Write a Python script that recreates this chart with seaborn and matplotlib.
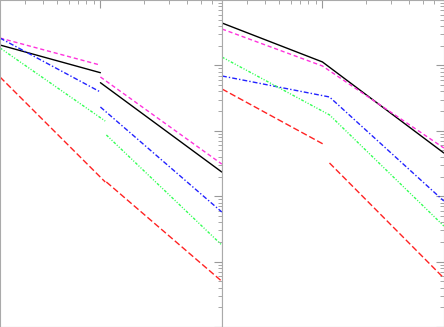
import numpy as np
import pandas as pd
import matplotlib
matplotlib.use('Agg')
import matplotlib.pyplot as plt
import seaborn as sns

# curve data: each curve is a list of segments (x values, y values)
curves = ['black', 'magenta', 'blue', 'green', 'red']

left_x = {
    'black':   [[0.2, 1.0], [1.0, 7.0]],
    'magenta': [[0.2, 1.0], [1.0, 7.0]],
    'blue':    [[0.2, 1.0], [1.0, 7.0]],
    'green':   [[0.2, 1.08], [1.1, 7.0]],
    'red':     [[0.2, 1.08], [1.1, 7.0]],
}
left_y = {
    'black':   [[0.205, 0.0773], [0.0544, 0.00234]],
    'magenta': [[0.262, 0.101], [0.0665, 0.0031]],
    'blue':    [[0.262, 0.0392], [0.0231, 0.000573]],
    'green':   [[0.185, 0.0141], [0.00863, 0.000179]],
    'red':     [[0.0665, 0.00165], [0.00165, 0.00005]],
}

right_x = {
    'black':   [[0.2, 1.0, 7.0]],
    'magenta': [[0.2, 1.0, 7.0]],
    'blue':    [[0.2, 1.12, 7.0]],
    'green':   [[0.2, 1.12, 7.0]],
    'red':     [[0.2, 1.04], [1.12, 7.0]],
}
right_y = {
    'black':   [[0.445, 0.113, 0.00458]],
    'magenta': [[0.36, 0.098, 0.00546]],
    'blue':    [[0.0689, 0.0329, 0.000845]],
    'green':   [[0.134, 0.0175, 0.00035]],
    'red':     [[0.0436, 0.00607], [0.00322, 0.000056]],
}

styles = {
    'black':   dict(color='black', linestyle='-'),
    'magenta': dict(color='#ff33dd', linestyle=(0, (3.0, 2.0))),
    'blue':    dict(color='#2222ff', linestyle=(0, (3.5, 1.5, 1.0, 1.5))),
    'green':   dict(color='#33ff55', linestyle=(0, (2.0, 1.2, 0.8, 1.2, 0.8, 1.2))),
    'red':     dict(color='#ff2222', linestyle=(0, (4.5, 2.0))),
}

sns.set_style('white')

fig = plt.figure(figsize=(4.44, 3.27), dpi=100)
ax1 = fig.add_axes([0.0, 0.0, 222 / 444, 1.0])
ax2 = fig.add_axes([222 / 444, 0.0, 222 / 444, 1.0])


def draw_panel(ax, xs, ys):
    for name in curves:
        for sx, sy in zip(xs[name], ys[name]):
            seg = pd.DataFrame({'x': sx, 'y': sy})
            sns.lineplot(data=seg, x='x', y='y', ax=ax, lw=1.0, sort=False,
                         estimator=None, **styles[name])
    ax.set_xscale('log')
    ax.set_yscale('log')
    ax.set_xlim(0.2, 7.02)
    ax.set_ylim(1e-5, 1.0)
    ax.set_xlabel('')
    ax.set_ylabel('')
    ax.tick_params(which='both', direction='in', top=True, right=True,
                   labelleft=False, labelbottom=False, colors='#999999')
    ax.tick_params(which='major', length=6, width=0.8)
    ax.tick_params(which='minor', length=3, width=0.6)
    for sp in ax.spines.values():
        sp.set_color('#aaaaaa')
        sp.set_linewidth(0.8)


draw_panel(ax1, left_x, left_y)
draw_panel(ax2, right_x, right_y)

fig.savefig('out.png', dpi=100)
